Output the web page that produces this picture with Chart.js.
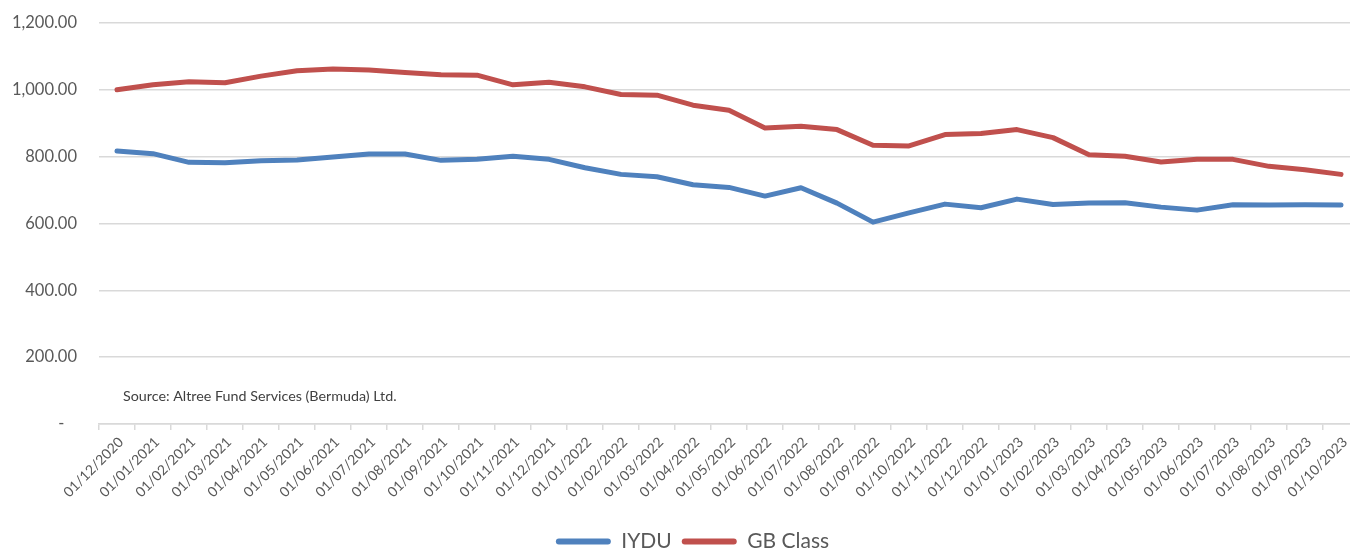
<!DOCTYPE html>
<html>
<head>
<meta charset="utf-8">
<script src="https://cdn.jsdelivr.net/npm/chart.js@4.4.1/dist/chart.umd.min.js"></script>
<style>
  html, body { margin: 0; padding: 0; background: #ffffff; overflow: hidden; }
  #wrap { position: relative; width: 1350px; height: 548px; overflow: hidden; background: #fff; }
  #c { position: absolute; left: 0; top: 0; }
</style>
</head>
<body>
<div id="wrap"><canvas id="c" width="1360" height="562"></canvas></div>
<script>
const categories = [
  "01/12/2020","01/01/2021","01/02/2021","01/03/2021","01/04/2021","01/05/2021","01/06/2021",
  "01/07/2021","01/08/2021","01/09/2021","01/10/2021","01/11/2021","01/12/2021","01/01/2022",
  "01/02/2022","01/03/2022","01/04/2022","01/05/2022","01/06/2022","01/07/2022","01/08/2022",
  "01/09/2022","01/10/2022","01/11/2022","01/12/2022","01/01/2023","01/02/2023","01/03/2023",
  "01/04/2023","01/05/2023","01/06/2023","01/07/2023","01/08/2023","01/09/2023","01/10/2023"
];
const iyduValues = [
  817, 809, 783, 782, 788, 790, 799, 808, 808, 789,
  792, 801, 792, 767, 747, 740, 716, 708, 682, 707,
  661, 604, 632, 658, 647, 673, 657, 661, 662, 649,
  640, 656, 655, 656, 655
];
const gbClassValues = [
  1000, 1015, 1024, 1021, 1041, 1057, 1062, 1059, 1052, 1045,
  1044, 1015, 1023, 1009, 986, 984, 954, 939, 886, 891,
  881, 834, 832, 866, 869, 881, 857, 806, 801, 784,
  792, 792, 771, 761, 747
];
const seriesNames = ["IYDU", "GB Class"];
const yTicks = [0, 200, 400, 600, 800, 1000, 1200];
const sourceNote = "Source: Altree Fund Services (Bermuda) Ltd.";

const BLUE = "#4F81BD";
const RED = "#C0504D";
const GRID = "#D9D9D9";
const TXT = "#595959";
const FONT = "Lato, 'Open Sans', sans-serif";

const sourcePlugin = {
  id: "sourceNote",
  afterDraw(chart) {
    const ctx = chart.ctx;
    const a = chart.chartArea;
    ctx.save();
    ctx.font = "14.3px " + FONT;
    ctx.fillStyle = "#404040";
    ctx.textAlign = "left";
    ctx.textBaseline = "middle";
    ctx.fillText(sourceNote, a.left + 24, a.bottom - 28);
    ctx.restore();
  }
};

const legendShift = {
  id: "legendShift",
  afterLayout(chart) {
    if (chart.legend) { chart.legend.left += 13; chart.legend.right += 13; }
  }
};

const ctx = document.getElementById("c").getContext("2d");
new Chart(ctx, {
  type: "line",
  data: {
    labels: categories,
    datasets: [
      { label: seriesNames[0], data: iyduValues, borderColor: BLUE, backgroundColor: BLUE,
        borderWidth: 5, pointRadius: 0, tension: 0, borderJoinStyle: "round", borderCapStyle: "round" },
      { label: seriesNames[1], data: gbClassValues, borderColor: RED, backgroundColor: RED,
        borderWidth: 5, pointRadius: 0, tension: 0, borderJoinStyle: "round", borderCapStyle: "round" }
    ]
  },
  options: {
    responsive: false,
    devicePixelRatio: 1,
    animation: false,
    layout: { padding: { top: 23, right: 1, bottom: 0, left: 0 } },
    plugins: {
      tooltip: { enabled: false },
      legend: {
        position: "bottom",
        labels: {
          font: { family: FONT, size: 21 },
          color: TXT,
          boxWidth: 55,
          boxHeight: 6,
          padding: 10,
          useBorderRadius: true,
          borderRadius: 3,
          generateLabels(chart) {
            return chart.data.datasets.map((ds, i) => ({
              text: ds.label,
              fillStyle: ds.borderColor,
              strokeStyle: ds.borderColor,
              lineWidth: 0,
              borderRadius: 3,
              fontColor: TXT,
              hidden: false,
              datasetIndex: i
            }));
          }
        }
      }
    },
    scales: {
      x: {
        offset: true,
        grid: { display: true, drawOnChartArea: false, drawTicks: true, tickLength: 6,
                color: GRID, lineWidth: 1.5, offset: true },
        border: { display: true, color: GRID, width: 1.5 },
        ticks: { autoSkip: false, maxRotation: 45, minRotation: 45, padding: 4, labelOffset: 4,
                 color: TXT, font: { family: FONT, size: 14 } },
        afterFit(s) { s.height = 97; }
      },
      y: {
        min: 0, max: 1200,
        afterBuildTicks(s) { s.ticks = yTicks.map(v => ({ value: v })); },
        grid: { color: GRID, lineWidth: 1.5, drawTicks: true, tickLength: 22, tickColor: "rgba(0,0,0,0)" },
        border: { display: false },
        ticks: {
          padding: 0, color: TXT, font: { family: FONT, size: 16.5 },
          callback(v) {
            if (v === 0) return "-   ";
            return Number(v).toLocaleString("en-US", { minimumFractionDigits: 2, maximumFractionDigits: 2 });
          }
        },
        afterFit(s) { s.width = 99; }
      }
    }
  },
  plugins: [sourcePlugin, legendShift]
});
</script>
</body>
</html>
